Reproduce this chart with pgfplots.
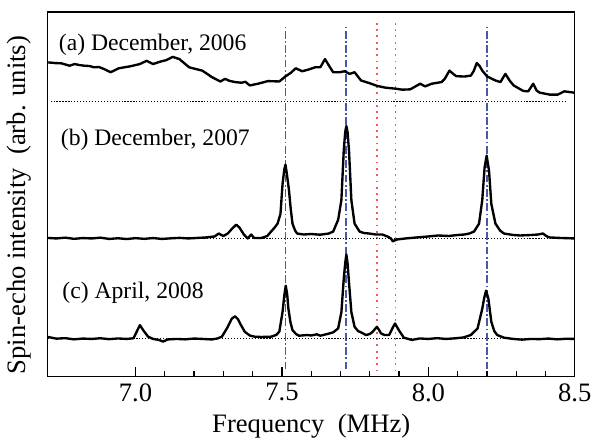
\documentclass[border=0pt]{standalone}
\usepackage{fontspec}
\setmainfont{Liberation Serif}
\usepackage{pgfplots}
\pgfplotsset{compat=1.18}
\definecolor{refblue}{HTML}{4A58A8}
\definecolor{refred}{HTML}{F05A5A}

\begin{document}
\begin{tikzpicture}[font=\fontsize{12}{14}\selectfont]
\begin{axis}[
  scale only axis, width=267.5pt, height=185pt,
  xmin=6.7, xmax=8.5, ymin=0, ymax=370,
  xtick={7.0,7.5,8.0,8.5}, minor x tick num=4, ytick=\empty,
  xtick pos=left, tick align=inside,
  major tick length=5pt, minor tick length=2.8pt,
  tick style={black, line width=0.6pt},
  /pgf/number format/assume math mode=true,
  xticklabel style={font=\fontsize{13.5}{15}\selectfont, /pgf/number format/.cd, fixed, fixed zerofill, precision=1},
  axis line style={line width=0.7pt},
  clip=false,
  xlabel={Frequency\ \ (MHz)},
  ylabel={Spin-echo intensity\ \ (arb. units)},
  label style={font=\fontsize{13.5}{15}\selectfont},
  xlabel style={at={(axis description cs:0.5,-0.136)}, anchor=center},
  ylabel style={at={(axis description cs:-0.055,0.47)}, anchor=center},
]
% reference lines
\addplot[refblue, line width=0.9pt, dash pattern=on 4pt off 1.2pt on 0.9pt off 1.2pt] coordinates {(7.512,7) (7.512,357)};
\addplot[refblue, line width=0.9pt, dash pattern=on 4pt off 1.2pt on 0.9pt off 1.2pt] coordinates {(7.720,7) (7.720,357)};
\addplot[refblue, line width=0.9pt, dash pattern=on 4pt off 1.2pt on 0.9pt off 1.2pt] coordinates {(8.200,7) (8.200,357)};
\addplot[refred, line width=0.9pt, dash pattern=on 0.9pt off 2.3pt] coordinates {(7.824,5) (7.824,360)};
\addplot[refred, line width=0.9pt, dash pattern=on 0.9pt off 2.3pt] coordinates {(7.888,5) (7.888,360)};

% baselines
\addplot[black, line width=0.5pt, dash pattern=on 0.6pt off 0.9pt] coordinates {(6.71,279) (8.475,279)};
\addplot[black, line width=0.5pt, dash pattern=on 0.6pt off 0.9pt] coordinates {(6.70,140) (8.50,140)};
\addplot[black, line width=0.5pt, dash pattern=on 0.6pt off 0.9pt] coordinates {(6.70,38) (8.50,38)};

% (a) December 2006
\addplot[black, line width=1.2pt, line join=round] coordinates {
(6.702,318.7) (6.725,318) (6.747,317.7) (6.775,315.3) (6.792,317) (6.808,316)
(6.825,315.3) (6.842,315) (6.859,313.7) (6.875,314) (6.892,312) (6.915,308.7)
(6.943,312.7) (6.982,314.7) (7.015,317) (7.038,320.3) (7.060,317) (7.083,319.3)
(7.105,321) (7.127,324.3) (7.150,322) (7.183,313.7) (7.205,312) (7.228,310.3)
(7.261,303.7) (7.290,299.3) (7.306,302) (7.320,300) (7.340,298.7) (7.362,298)
(7.375,299) (7.390,295.3) (7.418,297) (7.452,299.7) (7.491,299.3) (7.513,304.7)
(7.530,308) (7.547,312.7) (7.569,309.7) (7.586,311) (7.614,313.7) (7.631,313.7)
(7.647,322) (7.664,313.7) (7.675,308.7) (7.698,308.7) (7.714,309.7) (7.731,307)
(7.748,308.7) (7.770,300.3) (7.798,297.7) (7.826,294.7) (7.854,293) (7.888,292)
(7.910,291) (7.938,291.3) (7.972,297) (7.989,294.3) (8.011,297) (8.045,298.7)
(8.056,302) (8.072,310.3) (8.085,307) (8.095,304.7) (8.123,304.3) (8.145,305.3)
(8.155,310) (8.165,318) (8.175,315) (8.184,310.3) (8.201,304.3) (8.229,300.3)
(8.246,298.7) (8.263,307) (8.278,300) (8.291,295.3) (8.324,289.7) (8.341,289.3)
(8.358,297) (8.370,290) (8.380,288) (8.414,286) (8.442,286) (8.464,289.3) (8.497,288)
};

% (b) December 2007
\addplot[black, line width=1.2pt, line join=round] coordinates {
(6.70,140.5) (6.73,140) (6.76,140.8) (6.79,139.6) (6.82,140.4) (6.85,140)
(6.88,140.8) (6.91,139.5) (6.94,140.2) (6.97,139.4) (7.00,140.3) (7.03,139.6)
(7.06,140.4) (7.09,139.5) (7.12,140.1) (7.15,140.6) (7.18,140) (7.21,140.5)
(7.24,141) (7.27,142) (7.284,145) (7.30,142.5) (7.315,145) (7.33,150)
(7.344,154) (7.355,151) (7.37,144) (7.383,140) (7.395,144) (7.405,140.5)
(7.43,140.5) (7.45,142.5) (7.463,147) (7.475,151) (7.485,155) (7.495,165)
(7.502,195) (7.508,210) (7.512,215) (7.517,205) (7.524,189) (7.530,170)
(7.536,155) (7.545,148) (7.552,145) (7.574,144) (7.60,144.5) (7.63,143.8)
(7.66,145) (7.675,147) (7.692,159) (7.703,179) (7.711,229) (7.716,248)
(7.720,254) (7.724,248) (7.729,229) (7.737,179) (7.748,155) (7.765,147)
(7.78,145.5) (7.798,145) (7.82,144) (7.843,144) (7.860,142) (7.872,140)
(7.879,137) (7.885,138) (7.894,139) (7.922,140) (7.96,141) (8.00,142)
(8.033,143) (8.07,142.5) (8.10,143.5) (8.123,144) (8.140,145) (8.156,147)
(8.173,155) (8.184,179) (8.192,212) (8.199,224) (8.207,209) (8.215,175)
(8.229,155) (8.245,148) (8.258,145) (8.29,143.5) (8.313,143) (8.35,143.5)
(8.375,144) (8.391,145) (8.405,142) (8.414,141) (8.45,140.5) (8.50,140)
};

% (c) April 2008
\addplot[black, line width=1.2pt, line join=round] coordinates {
(6.700,40) (6.71,39.5) (6.73,38.3) (6.76,38.8) (6.79,37.6) (6.82,38.4)
(6.85,38) (6.88,38.7) (6.91,37.8) (6.94,38.5) (6.97,38) (6.993,38.7)
(7.004,45.3) (7.015,52) (7.026,47) (7.043,40.3) (7.060,38) (7.08,37)
(7.094,35.3) (7.11,37.5) (7.14,38) (7.17,37.6) (7.20,38.4) (7.23,38)
(7.26,37.5) (7.28,38.5) (7.295,40.3) (7.312,48.7) (7.329,58.7) (7.340,61)
(7.350,58) (7.357,53.7) (7.373,45.3) (7.390,41.5) (7.407,40.3) (7.43,40)
(7.463,40.3) (7.480,42) (7.491,45.3) (7.502,65.3) (7.508,82) (7.513,92)
(7.518,83) (7.522,68.7) (7.529,55) (7.536,47) (7.548,43) (7.558,41.3)
(7.586,42) (7.60,41.5) (7.619,42.7) (7.631,41.3) (7.655,43) (7.675,44.7)
(7.692,48.7) (7.703,65.3) (7.711,98.7) (7.716,115) (7.720,123.7) (7.724,115)
(7.729,95.3) (7.737,65.3) (7.748,50.3) (7.760,46) (7.770,44.7) (7.787,42)
(7.800,43) (7.810,45.3) (7.824,50.3) (7.832,47) (7.838,43.7) (7.850,42)
(7.866,42) (7.877,48.7) (7.886,53.7) (7.899,47) (7.916,39.3) (7.944,37)
(7.97,38.5) (8.00,38) (8.03,38.8) (8.06,38) (8.09,38.6) (8.12,39.5)
(8.145,42) (8.168,48.7) (8.184,68.7) (8.191,80) (8.197,87) (8.205,78.7)
(8.215,55.3) (8.225,46) (8.235,42) (8.258,39.3) (8.29,38) (8.32,37.3)
(8.35,38) (8.38,37.8) (8.41,38.4) (8.44,37.6) (8.47,38.2) (8.50,38)
};

\node[anchor=base west, inner sep=0pt] at (axis cs:6.737,331) {(a) December, 2006};
\node[anchor=base west, inner sep=0pt] at (axis cs:6.744,234) {(b) December, 2007};
\node[anchor=base west, inner sep=0pt] at (axis cs:6.749,79) {(c) April, 2008};
\end{axis}
\path (current axis.south west) ++(-23pt,-32pt) coordinate (bl);
\path (current axis.north east) ++(8.5pt,6pt) coordinate (tr);
\path (bl) rectangle (tr);
\end{tikzpicture}
\end{document}
